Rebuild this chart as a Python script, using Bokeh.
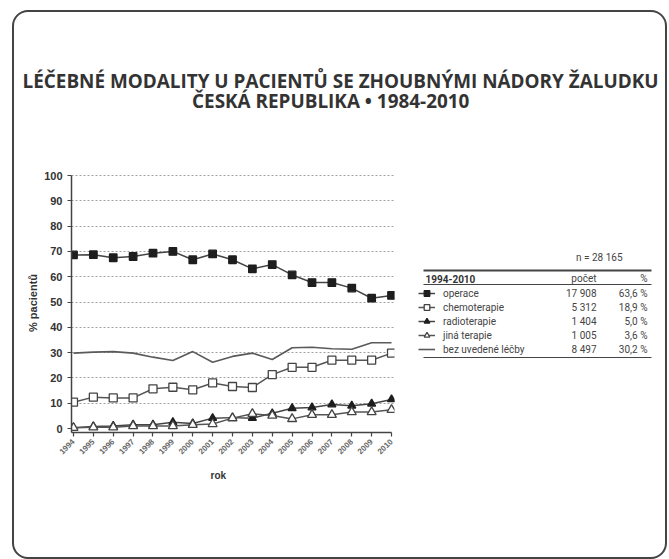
import math
from bokeh.plotting import figure
from bokeh.layouts import column, row
from bokeh.models import (Range1d, FixedTicker, Label, BoxAnnotation, Legend, LegendItem,
                          Title, Spacer)
from bokeh.embed import file_html
from bokeh.resources import INLINE

# ---------------- data ----------------
years = [1994, 1995, 1996, 1997, 1998, 1999, 2000, 2001, 2002, 2003, 2004, 2005, 2006, 2007, 2008, 2009, 2010]
operace = [68.6, 68.7, 67.5, 68.0, 69.3, 70.0, 66.7, 69.0, 66.7, 63.1, 64.8, 60.7, 57.7, 57.7, 55.5, 51.5, 52.6]
chemoterapie = [10.4, 12.4, 12.1, 12.1, 15.7, 16.3, 15.3, 18.0, 16.6, 16.2, 21.3, 24.2, 24.2, 27.0, 27.0, 27.0, 29.8]
radioterapie = [0.3, 0.8, 1.0, 1.5, 1.5, 2.5, 2.0, 4.1, 4.3, 4.1, 6.0, 8.0, 8.3, 9.5, 9.0, 9.8, 11.5]
jina_terapie = [0.3, 0.5, 0.5, 1.0, 1.0, 1.0, 1.5, 1.8, 4.1, 5.8, 5.1, 3.8, 5.4, 5.4, 6.5, 6.5, 7.4]
bez_lecby = [29.8, 30.2, 30.4, 29.8, 28.2, 26.9, 30.4, 26.2, 28.5, 29.8, 27.3, 31.9, 32.1, 31.5, 31.3, 33.9, 33.9]
y_ticks = [0, 10, 20, 30, 40, 50, 60, 70, 80, 90, 100]

legend_names = ["operace", "chemoterapie", "radioterapie", "jiná terapie", "bez uvedené léčby"]
legend_counts = ["17 908", "5 312", "1 404", "1 005", "8 497"]
legend_pcts = ["63,6 %", "18,9 %", "5,0 %", "3,6 %", "30,2 %"]
n_total = "n = 28 165"
period = "1994-2010"
title1 = "LÉČEBNÉ MODALITY U PACIENTŮ SE ZHOUBNÝMI NÁDORY ŽALUDKU"
title2 = "ČESKÁ REPUBLIKA   •   1984-2010"

# ---------------- layout (page pixel coordinates, page origin = window corner) ----------------
OX, OY = 12, 10                  # top-left of the framed panel
INNER_W, INNER_H = 655, 549
TOP_H = 128
BODY_H = INNER_H - TOP_H
CHART_W = 400
TABLE_W = INNER_W - CHART_W
ROW_TOP = OY + TOP_H
FRAME_TOP, FRAME_BOTTOM = 173, 432
FRAME_LEFT, FRAME_RIGHT = 71, 394
MB_TOP = FRAME_TOP - ROW_TOP
MB_BOTTOM = ROW_TOP + BODY_H - FRAME_BOTTOM


def clear_bg(fig):
    fig.outline_line_color = None
    fig.background_fill_alpha = 0
    fig.border_fill_alpha = 0


# ---------------- title figure ----------------
tf = figure(width=INNER_W, height=TOP_H, output_backend="svg", toolbar_location=None,
            x_range=Range1d(OX, OX + INNER_W), y_range=Range1d(OY + TOP_H, OY),
            x_axis_location=None, y_axis_location=None, min_border=0)
clear_bg(tf)
tf.grid.visible = False
for txt, yy in ((title1, 80), (title2, 100)):
    tf.add_layout(Label(x=340, y=yy, text=txt, text_font="Open Sans", text_font_size="18.9px",
                        text_font_style="bold", text_align="center", text_baseline="middle",
                        text_color="#333333"))

# ---------------- chart figure ----------------
p = figure(width=CHART_W, height=BODY_H, output_backend="svg", toolbar_location=None,
           x_range=Range1d(1993.9, 2010.15), y_range=Range1d(-1.58, 100.8),
           min_border_left=FRAME_LEFT - OX, min_border_right=OX + CHART_W - FRAME_RIGHT,
           min_border_top=MB_TOP, min_border_bottom=MB_BOTTOM)
clear_bg(p)

p.yaxis.bounds = (-1.58, 100)
p.xaxis.bounds = (1993.9, 2010)
p.yaxis.ticker = FixedTicker(ticks=y_ticks)
p.xaxis.ticker = FixedTicker(ticks=years)
p.xaxis.major_label_orientation = math.pi / 4
for ax in (p.xaxis, p.yaxis):
    ax.axis_line_color = "#444444"
    ax.axis_line_width = 1.5
    ax.major_tick_line_color = "#444444"
    ax.major_tick_line_width = 1.2
    ax.major_tick_in = 0
    ax.major_tick_out = 4
    ax.minor_tick_line_color = None
p.yaxis.major_label_text_font = "Liberation Sans"
p.yaxis.major_label_text_font_style = "bold"
p.yaxis.major_label_text_font_size = "11px"
p.yaxis.major_label_text_color = "#333333"
p.xaxis.major_label_text_font = "Liberation Sans"
p.xaxis.major_label_text_font_style = "bold"
p.xaxis.major_label_text_font_size = "8px"
p.xaxis.major_label_text_color = "#666666"
p.xaxis.major_label_standoff = 4
p.yaxis.axis_label = "% pacientů"
p.yaxis.axis_label_text_font = "Liberation Sans"
p.yaxis.axis_label_text_font_style = "bold"
p.yaxis.axis_label_text_font_size = "11px"
p.yaxis.axis_label_text_color = "#333333"
p.yaxis.axis_label_standoff = 2

p.add_layout(Title(text="rok", align="left", offset=139, standoff=16, text_font="Liberation Sans",
                   text_font_size="10px", text_font_style="bold", text_color="#333333"), "below")

p.xgrid.grid_line_color = None
p.ygrid.ticker = FixedTicker(ticks=y_ticks[1:])
p.ygrid.grid_line_color = "#a0a0a0"
p.ygrid.grid_line_dash = "2 2"
p.ygrid.grid_line_width = 1

STY = {
    "operace": dict(line="#444444", marker="square", size=7.5, fill="#1e1e1e", mline="#1e1e1e"),
    "chemoterapie": dict(line="#555555", marker="square", size=8, fill="white", mline="#444444"),
    "radioterapie": dict(line="#444444", marker="triangle", size=8, fill="#1e1e1e", mline="#1e1e1e"),
    "jiná terapie": dict(line="#555555", marker="triangle", size=9, fill="white", mline="#444444"),
}
p.line(years, bez_lecby, line_color="#5a5a5a", line_width=1.6)
for name, vals in (("operace", operace), ("chemoterapie", chemoterapie),
                   ("radioterapie", radioterapie), ("jiná terapie", jina_terapie)):
    s = STY[name]
    p.line(years, vals, line_color=s["line"], line_width=1.5)
    p.scatter(years, vals, marker=s["marker"], size=s["size"], fill_color=s["fill"],
              line_color=s["mline"], line_width=1.3)

# ---------------- table / legend figure ----------------
TX0 = OX + CHART_W
tb = figure(width=TABLE_W, height=BODY_H, output_backend="svg", toolbar_location=None,
            x_range=Range1d(TX0, TX0 + TABLE_W), y_range=Range1d(FRAME_BOTTOM, FRAME_TOP),
            x_axis_location=None, y_axis_location=None,
            min_border_left=0, min_border_right=0,
            min_border_top=MB_TOP, min_border_bottom=MB_BOTTOM)
clear_bg(tb)
tb.grid.visible = False

nan = float("nan")
items = []
for name in legend_names[:4]:
    s = STY[name]
    rl = tb.line(x=[nan], y=[nan], line_color=s["line"], line_width=1.5)
    rm = tb.scatter(x=[nan], y=[nan], marker=s["marker"], size=s["size"], fill_color=s["fill"],
                    line_color=s["mline"], line_width=1.3)
    items.append(LegendItem(label=name, renderers=[rl, rm]))
rb = tb.line(x=[nan], y=[nan], line_color="#5a5a5a", line_width=1.6)
items.append(LegendItem(label=legend_names[4], renderers=[rb]))

legend = Legend(items=items, location=(418 - TX0, FRAME_BOTTOM - 356))
legend.label_text_font = "Roboto"
legend.label_text_font_size = "10px"
legend.label_text_color = "#444444"
legend.glyph_width = 17
legend.glyph_height = 14
legend.label_height = 14
legend.label_standoff = 8
legend.spacing = 0
legend.padding = 0
legend.margin = 0
legend.border_line_alpha = 0
legend.background_fill_alpha = 0
tb.add_layout(legend)


def tlabel(x, y, text, align="left", style="normal", color="#444444"):
    tb.add_layout(Label(x=x, y=y, text=text, text_font="Roboto", text_font_size="10px",
                        text_font_style=style, text_align=align, text_baseline="middle",
                        text_color=color))


def trule(y, thick):
    tb.add_layout(BoxAnnotation(left=423, right=651, top=y - thick / 2, bottom=y + thick / 2,
                                fill_color="#444444", fill_alpha=1, line_color=None))


tlabel(622, 257, n_total, align="right")
trule(270, 2)
tlabel(425, 278, period, style="bold", color="#333333")
tlabel(596, 278, "počet", align="right")
tlabel(647, 278, "%", align="right")
trule(284, 1.2)
for yy, c, pc in zip([293, 307, 321, 335, 349], legend_counts, legend_pcts):
    tlabel(596, yy, c, align="right")
    tlabel(647, yy, pc, align="right")
trule(357, 1.2)

inner = column(tf, row(p, tb),
               styles={"outline": "2px solid #444444", "outline-offset": "-2px",
                       "border-radius": "16px"})
layout = column(Spacer(width=OX + INNER_W, height=OY),
                row(Spacer(width=OX, height=INNER_H), inner))

open("out.html", "w").write(file_html(layout, INLINE))
